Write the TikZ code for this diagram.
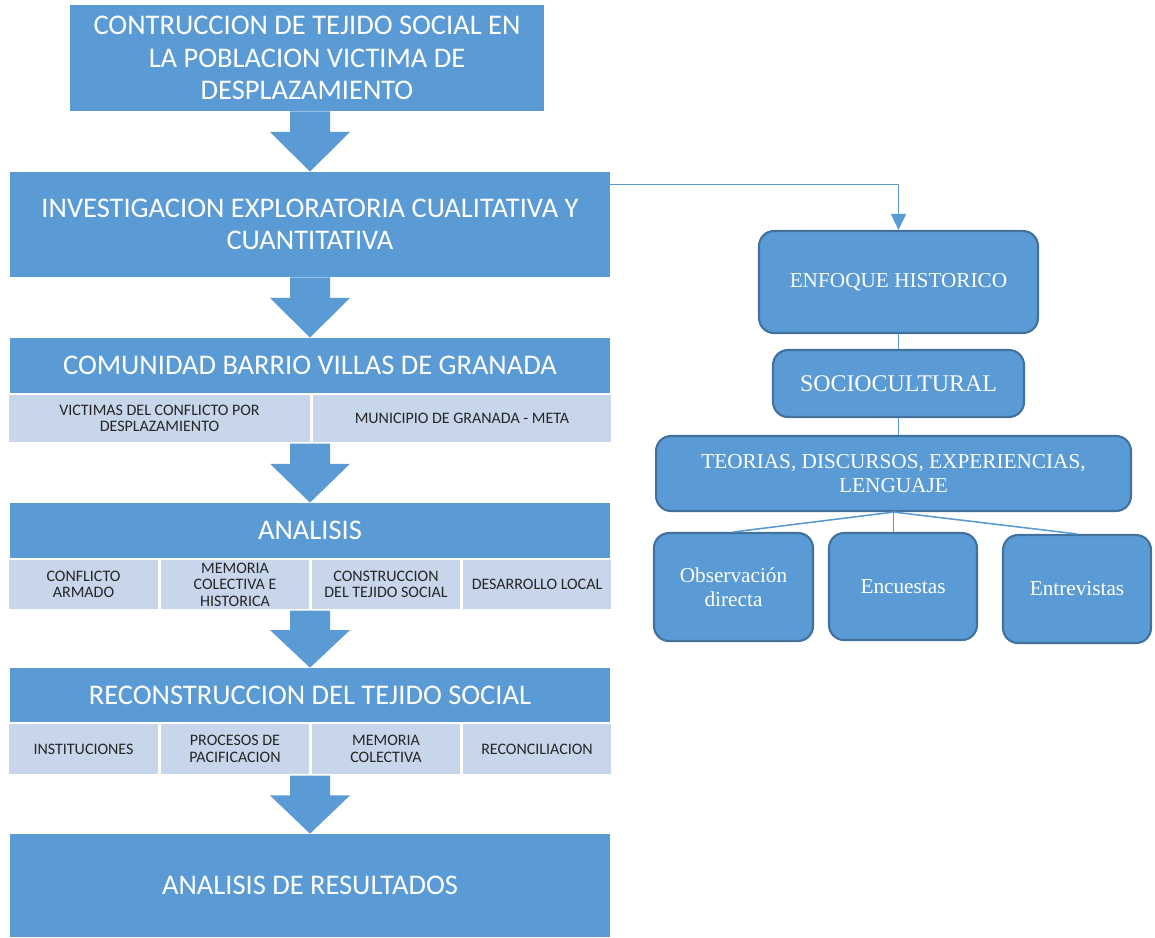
\documentclass[tikz,border=0pt]{standalone}
\usepackage{fontspec}
\setmainfont{Carlito}
\newfontfamily\romanfont{Liberation Serif}
\usetikzlibrary{calc,arrows.meta}
\definecolor{azul}{HTML}{5B9BD5}
\definecolor{azulclaro}{HTML}{C7D6EB}
\definecolor{borde}{HTML}{41719C}
\newcommand{\flecha}[2]{%
  \coordinate (fa) at (#1.south -| #2.north);
  \coordinate (fb) at ($(fa)!0.34!(#2.north)$);
  \fill[azul] ($(fa)+(-20,0)$) -- ($(fb)+(-20,0)$) -- ($(fb)+(-40,0)$) -- (#2.north)
    -- ($(fb)+(40,0)$) -- ($(fb)+(20,0)$) -- ($(fa)+(20,0)$) -- cycle;}

\begin{document}
\begin{tikzpicture}[x=0.02cm,y=-0.02cm,
    caja/.style={fill=azul,text=white,inner sep=2pt,align=center,font=\fontsize{16.2}{18.3}\selectfont},
    celda/.style={fill=azulclaro,draw=white,line width=0.8pt,inner sep=1pt,align=center,text=black!85,font=\fontsize{9.1}{9.4}\selectfont},
    redonda/.style={fill=azul,draw=borde,line width=1.2pt,rounded corners=0.3cm,text=white,align=center,font=\romanfont\fontsize{12.1}{14}\selectfont},
    linea/.style={azul,line width=0.9pt}]
		%%%%% START %%%%%
		\useasboundingbox (0,0) rectangle (1155,937);
		
		\node[caja,minimum width=9.48cm,minimum height=2.12cm] (titulo) at (307,58) {CONTRUCCION DE TEJIDO SOCIAL EN\\LA POBLACION VICTIMA DE\\DESPLAZAMIENTO};
		\node[caja,minimum width=12cm,minimum height=2.1cm] (investigacion) at (310,224.5) {INVESTIGACION EXPLORATORIA CUALITATIVA Y\\CUANTITATIVA};
		
		\node[caja,minimum width=12cm,minimum height=1.1cm] (comunidad) at (310,365.5) {COMUNIDAD BARRIO VILLAS DE GRANADA};
		\node[celda,minimum width=6.06cm,minimum height=0.98cm] (victimas) at (159.5,418.5) {VICTIMAS DEL CONFLICTO POR\\DESPLAZAMIENTO};
		\node[celda,minimum width=6cm,minimum height=0.98cm] (municipio) at (462,418.5) {MUNICIPIO DE GRANADA - META};
		
		\node[caja,minimum width=12cm,minimum height=1.1cm] (analisis) at (310,530.5) {ANALISIS};
		\node[celda,minimum width=3.02cm,minimum height=1.02cm] (conflicto) at (83.5,584.5) {CONFLICTO\\ARMADO};
		\node[celda,minimum width=3cm,minimum height=1.02cm] (memoria) at (235,584.5) {MEMORIA\\COLECTIVA E\\HISTORICA};
		\node[celda,minimum width=3cm,minimum height=1.02cm] (construccion) at (386,584.5) {CONSTRUCCION\\DEL TEJIDO SOCIAL};
		\node[celda,minimum width=3cm,minimum height=1.02cm] (desarrollo) at (537,584.5) {DESARROLLO LOCAL};
		
		\node[caja,minimum width=12cm,minimum height=1.08cm] (reconstruccion) at (310,695) {RECONSTRUCCION DEL TEJIDO SOCIAL};
		\node[celda,minimum width=3.02cm,minimum height=1.04cm] (instituciones) at (83.5,749) {INSTITUCIONES};
		\node[celda,minimum width=3cm,minimum height=1.04cm] (procesos) at (235,749) {PROCESOS DE\\PACIFICACION};
		\node[celda,minimum width=3cm,minimum height=1.04cm] (colectiva) at (386,749) {MEMORIA\\COLECTIVA};
		\node[celda,minimum width=3cm,minimum height=1.04cm] (reconciliacion) at (537,749) {RECONCILIACION};
		
		\node[caja,minimum width=12cm,minimum height=2.06cm] (resultados) at (310,885.5) {ANALISIS DE RESULTADOS};
		
		\flecha{titulo}{investigacion}
		\flecha{investigacion}{comunidad}
		\flecha{victimas}{analisis}
		\flecha{conflicto}{reconstruccion}
		\flecha{instituciones}{resultados}
		
		%%%%% DERECHA %%%%%
		\node[redonda,minimum width=5.58cm,minimum height=2.04cm] (enfoque) at (898.5,282) {ENFOQUE HISTORICO};
		\node[redonda,minimum width=5.02cm,minimum height=1.34cm,font=\romanfont\fontsize{13.6}{16}\selectfont] (socio) at (898.5,383.5) {SOCIOCULTURAL};
		\node[redonda,minimum width=9.5cm,minimum height=1.5cm] (teorias) at (893.5,473.5) {TEORIAS, DISCURSOS, EXPERIENCIAS,\\LENGUAJE};
		\node[redonda,minimum width=3.18cm,minimum height=2.16cm] (observacion) at (733.5,587) {Observación\\directa};
		\node[redonda,minimum width=2.96cm,minimum height=2.14cm] (encuestas) at (903,586.5) {Encuestas};
		\node[redonda,minimum width=2.96cm,minimum height=2.16cm] (entrevistas) at (1077,589) {Entrevistas};
		
		\draw[linea,-{Triangle[width=0.3cm,length=0.32cm]}] ($(investigacion.north east)+(0,13)$) -| (enfoque.north);
		\draw[linea] (enfoque.south) -- (socio.north);
		\draw[linea] (socio.south) -- (socio.south |- teorias.north);
		\draw[linea] (teorias.south) -- (observacion.north);
		\draw[linea] (teorias.south) -- (encuestas.north -| teorias.south);
		\draw[linea] (teorias.south) -- (entrevistas.north);
		
		%%%%% END %%%%%
\end{tikzpicture}
\end{document}
